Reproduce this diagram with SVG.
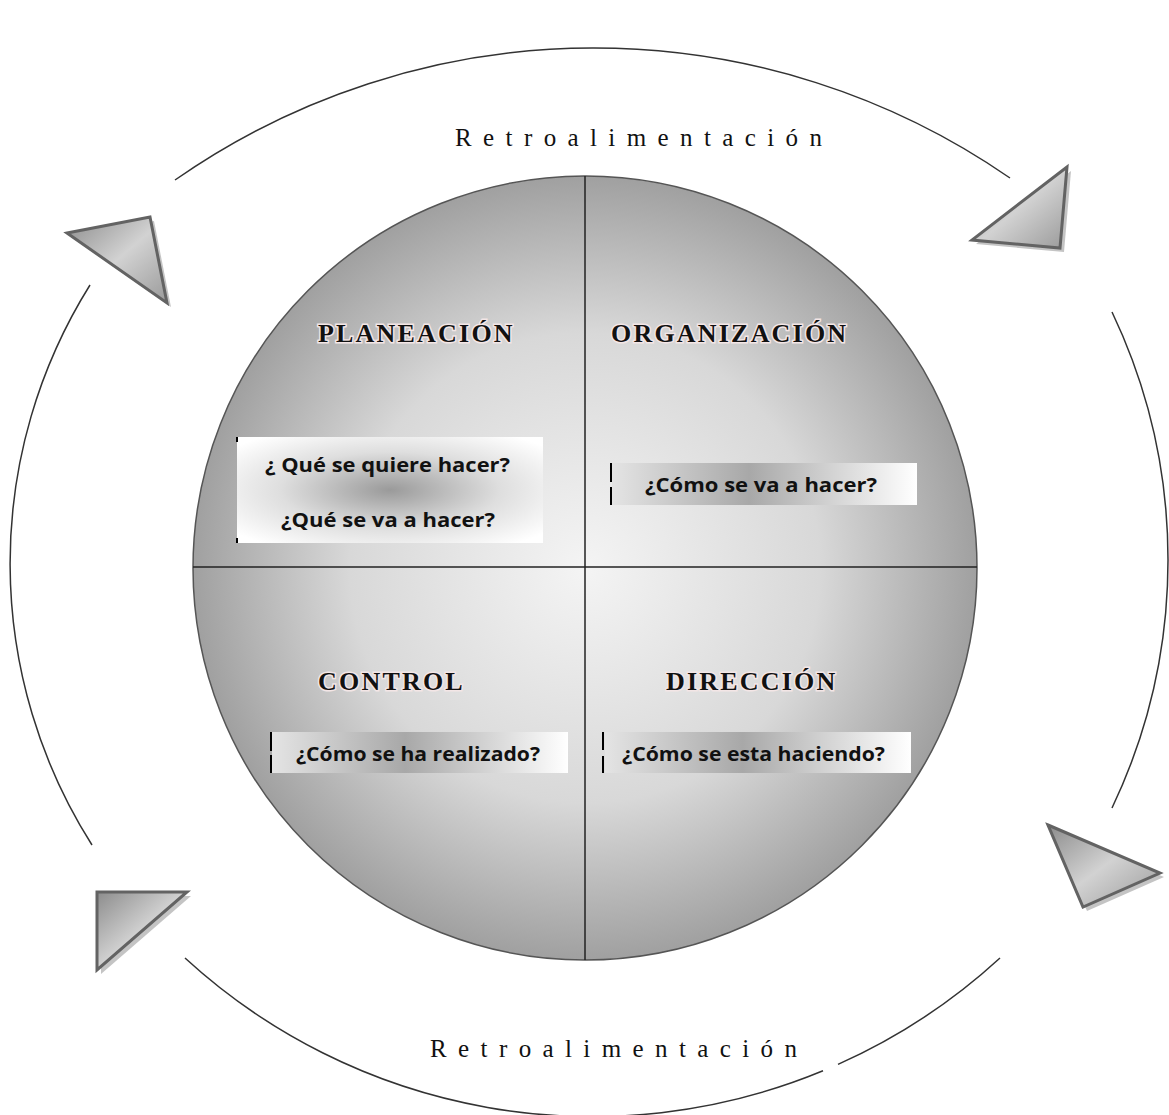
<svg xmlns="http://www.w3.org/2000/svg" width="1169" height="1115" viewBox="0 0 1169 1115">
<style>
.arc{fill:none;stroke:#333;stroke-width:1.5}
.tri{stroke:#636363;stroke-width:3;stroke-linejoin:miter}
.sh{fill:#c4c4c4;stroke:none}
.ttl{font-family:"Liberation Serif","Times New Roman",serif;font-weight:bold;font-size:26px;letter-spacing:2.2px;fill:#111;stroke:#f3e6e6;stroke-width:3;paint-order:stroke}
.q{font-family:"Open Sans","Liberation Sans",sans-serif;font-weight:bold;font-size:19px;fill:#111}
.ret{font-family:"Liberation Serif","Times New Roman",serif;font-size:25px;fill:#111}
.tick{stroke:#000;stroke-width:2}
.div{stroke:#222;stroke-width:1.5}
</style>
<defs>
<radialGradient id="gC" cx="585" cy="568" r="392" gradientUnits="userSpaceOnUse">
<stop offset="0" stop-color="#f4f4f4"/>
<stop offset="0.6" stop-color="#d8d8d8"/>
<stop offset="1" stop-color="#a0a0a0"/>
</radialGradient>
<linearGradient id="gT" x1="0" y1="0" x2="1" y2="1">
<stop offset="0" stop-color="#8c8c8c"/>
<stop offset="0.5" stop-color="#d2d2d2"/>
<stop offset="1" stop-color="#9a9a9a"/>
</linearGradient>
<radialGradient id="gB1" cx="0.5" cy="0.5" r="0.65">
<stop offset="0" stop-color="#9a9a9a"/>
<stop offset="0.55" stop-color="#dedede"/>
<stop offset="1" stop-color="#ffffff"/>
</radialGradient>
<linearGradient id="gB" x1="0" y1="0" x2="1" y2="0">
<stop offset="0" stop-color="#e4e4e4"/>
<stop offset="0.45" stop-color="#a8a8a8"/>
<stop offset="1" stop-color="#ffffff"/>
</linearGradient>
</defs>
<rect width="1169" height="1115" fill="#fff"/>

<g id="ciclo">
<circle cx="585" cy="568" r="392" fill="url(#gC)" stroke="#555" stroke-width="1.5"/>
<line class="div" x1="585" y1="176" x2="585" y2="960"/>
<line class="div" x1="193" y1="567" x2="977" y2="567"/>
</g>

<g id="planeacion">
<text class="ttl" x="318" y="342">PLANEACIÓN</text>
<rect x="237" y="437" width="306" height="106" fill="url(#gB1)"/>
<line class="tick" x1="237" y1="437" x2="237" y2="442"/>
<line class="tick" x1="237" y1="538" x2="237" y2="543"/>
<text class="q" x="265" y="472" textLength="245" lengthAdjust="spacingAndGlyphs">¿ Qué se quiere hacer?</text>
<text class="q" x="281" y="527" textLength="214" lengthAdjust="spacingAndGlyphs">¿Qué se va a hacer?</text>
</g>

<g id="organizacion">
<text class="ttl" x="611" y="342">ORGANIZACIÓN</text>
<rect x="612" y="463" width="305" height="42" fill="url(#gB)"/>
<line class="tick" x1="611" y1="463" x2="611" y2="482"/>
<line class="tick" x1="611" y1="487" x2="611" y2="505"/>
<text class="q" x="645" y="492" textLength="232" lengthAdjust="spacingAndGlyphs">¿Cómo se va a hacer?</text>
</g>

<g id="control">
<text class="ttl" x="318" y="690">CONTROL</text>
<rect x="272" y="732" width="296" height="41" fill="url(#gB)"/>
<line class="tick" x1="271" y1="732" x2="271" y2="751"/>
<line class="tick" x1="271" y1="755" x2="271" y2="773"/>
<text class="q" x="296" y="761" textLength="244" lengthAdjust="spacingAndGlyphs">¿Cómo se ha realizado?</text>
</g>

<g id="direccion">
<text class="ttl" x="666" y="690">DIRECCIÓN</text>
<rect x="605" y="732" width="306" height="41" fill="url(#gB)"/>
<line class="tick" x1="603" y1="732" x2="603" y2="750"/>
<line class="tick" x1="603" y1="756" x2="603" y2="773"/>
<text class="q" x="622" y="761" textLength="263" lengthAdjust="spacingAndGlyphs">¿Cómo se esta haciendo?</text>
</g>

<g id="retro-top">
<text class="ret" x="455" y="146" textLength="367">Retroalimentación</text>
</g>
<g id="retro-bottom">
<text class="ret" x="430" y="1057" textLength="367">Retroalimentación</text>
</g>

<g id="connectors">
<path class="arc" d="M175,180 A731,731 0 0 1 1010,178"/>
<path class="arc" d="M90,285 A525,525 0 0 0 92,845"/>
<path class="arc" d="M1112,312 A577,577 0 0 1 1112,808"/>
<path class="arc" d="M185,958 A602.7,602.7 0 0 0 823,1070.8"/>
<path class="arc" d="M838,1064.4 A602.7,602.7 0 0 0 1000,958"/>
<polygon class="sh" points="71,237 154,221 171,307"/>
<polygon class="tri" fill="url(#gT)" points="67,233 150,217 167,303"/>
<polygon class="sh" points="1071,171 976,244 1064,252"/>
<polygon class="tri" fill="url(#gT)" points="1067,167 972,240 1060,248"/>
<polygon class="sh" points="1052,829 1164,877 1087,911"/>
<polygon class="tri" fill="url(#gT)" points="1048,825 1160,873 1083,907"/>
<polygon class="sh" points="101,896 191,896 101,974"/>
<polygon class="tri" fill="url(#gT)" points="97,892 187,892 97,970"/>
</g>
</svg>
